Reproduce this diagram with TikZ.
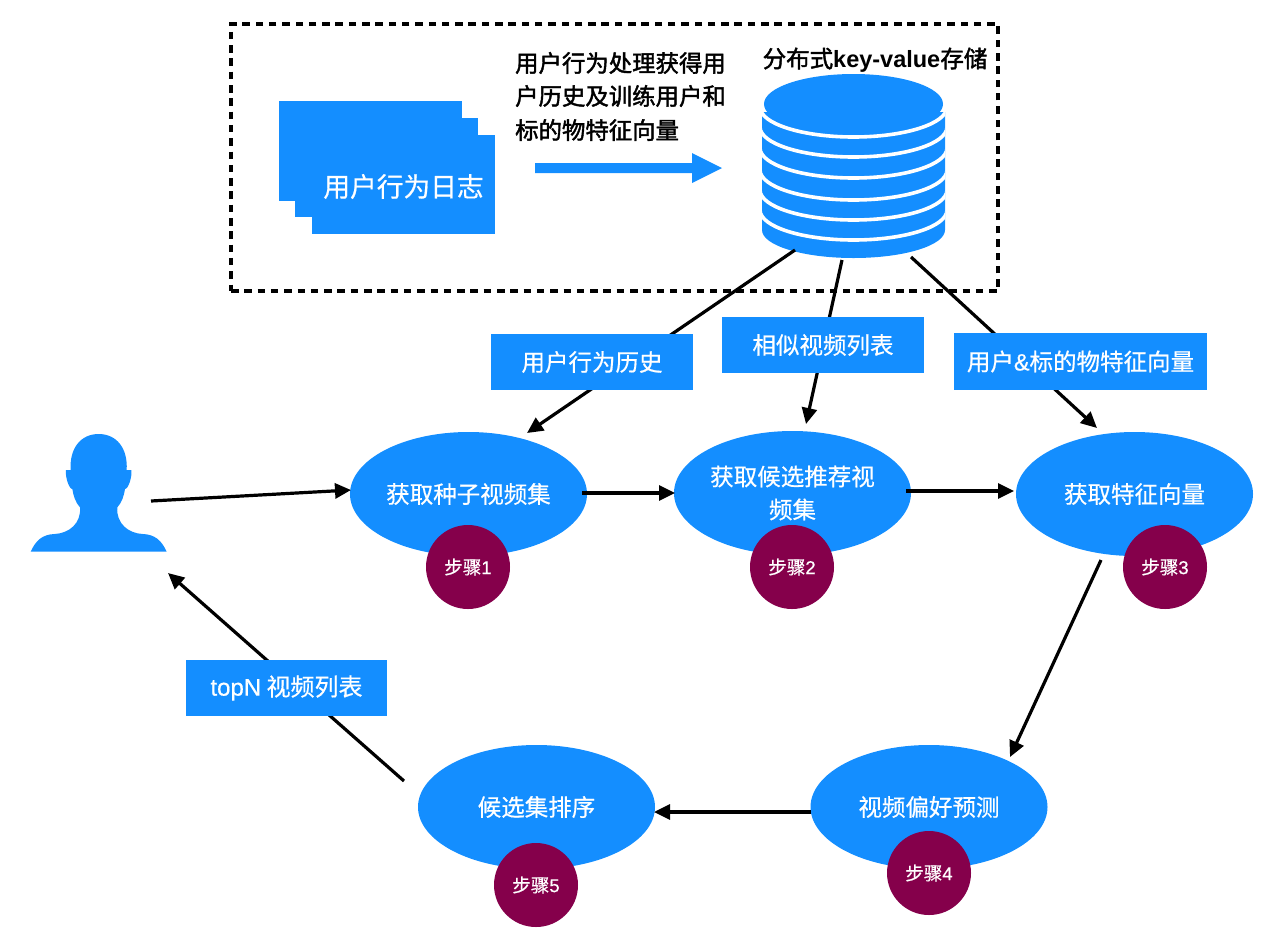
\documentclass[tikz,border=0pt]{standalone}
\usepackage{fontspec}
\setmainfont[FakeBold=0.6]{Noto Sans CJK SC}
\newfontfamily\cjkmed[FakeBold=1.8]{Noto Sans CJK SC}
\newfontfamily\latf[FakeBold=0.6]{Liberation Sans}
\newfontfamily\latb{Liberation Sans Bold}
\usetikzlibrary{arrows.meta,shapes.geometric,calc}
\definecolor{mainblue}{RGB}{20,142,255}
\definecolor{plum}{RGB}{133,0,75}
% half ellipse around x=853.5: #1 = centre y, #2 = y radius, #3 = x radius
\newcommand{\halfarc}[3]{({853.5-#3},#1) .. controls ({853.5-#3},{#1+0.5523*#2}) and ({853.5-0.5523*#3},{#1+#2}) .. (853.5,{#1+#2}) .. controls ({853.5+0.5523*#3},{#1+#2}) and ({853.5+#3},{#1+0.5523*#2}) .. ({853.5+#3},#1)}
\newcommand{\low}[1]{\raisebox{-1.5pt}{#1}}
\tikzset{
  conn/.style={draw=black,line width=3.2pt,-{Triangle[length=16pt,width=15pt]}},
  bluefill/.style={fill=mainblue,draw=none},
  stack/.style={bluefill,rectangle,inner sep=0pt,minimum width=183pt,minimum height=99.5pt},
  ell/.style={bluefill,ellipse,inner sep=0pt,minimum width=237pt,minimum height=124pt,text=white,font=\fontsize{23.5}{33}\selectfont,align=center},
  stepcirc/.style={circle,fill=plum,draw=none,inner sep=0pt,minimum size=84pt,text=white,font=\fontsize{18.5}{22}\selectfont},
  lab/.style={bluefill,rectangle,inner sep=0pt,minimum height=56.5pt,minimum width=202pt,text=white,font=\fontsize{23.5}{28}\selectfont},
  toptext/.style={inner sep=0pt,anchor=west,text=black,font=\fontsize{23.4}{28}\cjkmed},
}
\begin{document}
\begin{tikzpicture}[x=1pt,y=-1pt]
\useasboundingbox (0,0) rectangle (1284,938);
% dashed frame
\node[draw=black,line width=3.2pt,dash pattern=on 7.5pt off 5.8pt,rectangle,inner sep=0pt,minimum width=767pt,minimum height=267pt] (frame) at (614.5,157.5) {};
% log stack
\node[stack] (log1) at (370.5,151) {};
\node[stack] (log2) at (386.5,167.5) {};
\node[stack] (log3) at (403.5,184.5) {};
\node[inner sep=0pt,text=white,font=\fontsize{26.7}{30}\selectfont] (logtext) at (403.5,186.5) {用户行为日志};
% text above big arrow
\node[toptext] (t1) at (515,63) {用户行为处理获得用};
\node[toptext] (t2) at (515,96) {户历史及训练用户和};
\node[toptext] (t3) at (515,130) {标的物特征向量};
% block arrow
\fill[mainblue] (535,163) -- (692,163) -- (692,153) -- (722,168) -- (692,183) -- (692,173) -- (535,173) -- cycle;
% database
\coordinate (db) at (853.5,165);
\begin{scope}
\clip \halfarc{230}{28}{91.5} -- (945,112) -- (762,112) -- cycle;
\fill[mainblue] (750,100) rectangle (960,265);
\foreach \cy in {107,127,148,170,190,210}
  \draw[white,line width=3.6pt] \halfarc{\cy}{30}{93.5};
\end{scope}
\fill[mainblue] (853.5,104) ellipse [x radius=89.5pt,y radius=30pt];
\node[inner sep=0pt,text=black,font=\fontsize{23.5}{26}\cjkmed] (dbtext) at (875,60) {分布式{\latb key-value}存储};
% user
\begin{scope}[shift={(20,420)},scale=0.33333]
\fill[mainblue] (32,395) -- (440,395) .. controls (425,362) and (405,343) .. (368,342) .. controls (325,340) and (288,310) .. (292,262) .. controls (305,248) and (312,228) .. (315,207) .. controls (325,207) and (337,170) .. (334,150) -- (320,150) .. controls (324,85) and (290,42) .. (236,42) .. controls (182,42) and (148,85) .. (152,150) -- (138,150) .. controls (135,170) and (147,207) .. (157,207) .. controls (160,228) and (167,248) .. (180,262) .. controls (184,310) and (147,340) .. (104,342) .. controls (67,343) and (47,362) .. (32,395) -- cycle;
\end{scope}
\coordinate (user) at (98.7,493);
% ellipses
\node[ell] (e1) at (468.5,494) {\low{获取种子视频集}};
\node[ell] (e2) at (792.5,493) {\low{获取候选推荐视}\\\low{频集}};
\node[ell] (e3) at (1134.5,494) {\low{获取特征向量}};
\node[ell] (e4) at (929,807) {\low{视频偏好预测}};
\node[ell] (e5) at (536.5,807) {\low{候选集排序}};
% connectors
\draw[conn] ($(db)+(-58.5,85)$) -- ($(e1)+(58.5,-61)$);
\draw[conn] ($(db)+(-11.5,95)$) -- ($(e2)+(13.5,-69)$);
\draw[conn] ($(db)+(57.5,92)$) -- ($(e3)+(-37.5,-66)$);
\draw[conn] ($(user)+(52.3,8)$) -- ($(e1)+(-117.5,-4)$);
\draw[conn] ($(e1)+(113.5,-1)$) -- ($(e2)+(-117.5,0)$);
\draw[conn] ($(e2)+(113.5,-2)$) -- ($(e3)+(-120.5,-3)$);
\draw[conn] ($(e3)+(-33.5,66)$) -- ($(e4)+(81,-50)$);
\draw[conn] ($(e4)+(-118,5)$) -- ($(e5)+(117.5,5)$);
\draw[conn] ($(e5)+(-132.5,-26)$) -- ($(user)+(69.3,80)$);
% labels
\node[lab] (l1) at (592,362) {\low{用户行为历史}};
\node[lab] (l2) at (823,345) {\low{相似视频列表}};
\node[lab,minimum width=253pt] (l3) at (1080.5,361.5) {\low{用户{\latf\&}标的物特征向量}};
\node[lab,minimum width=201pt,font=\fontsize{24}{28}\selectfont] (l4) at (286.5,688) {\low{{\latf topN} 视频列表}};
% step circles
\node[stepcirc] (c1) at (468,567) {步骤{\latf 1}};
\node[stepcirc] (c2) at (792,567) {步骤{\latf 2}};
\node[stepcirc] (c3) at (1165,567) {步骤{\latf 3}};
\node[stepcirc] (c4) at (929,873) {步骤{\latf 4}};
\node[stepcirc] (c5) at (536,885) {步骤{\latf 5}};
\end{tikzpicture}
\end{document}
